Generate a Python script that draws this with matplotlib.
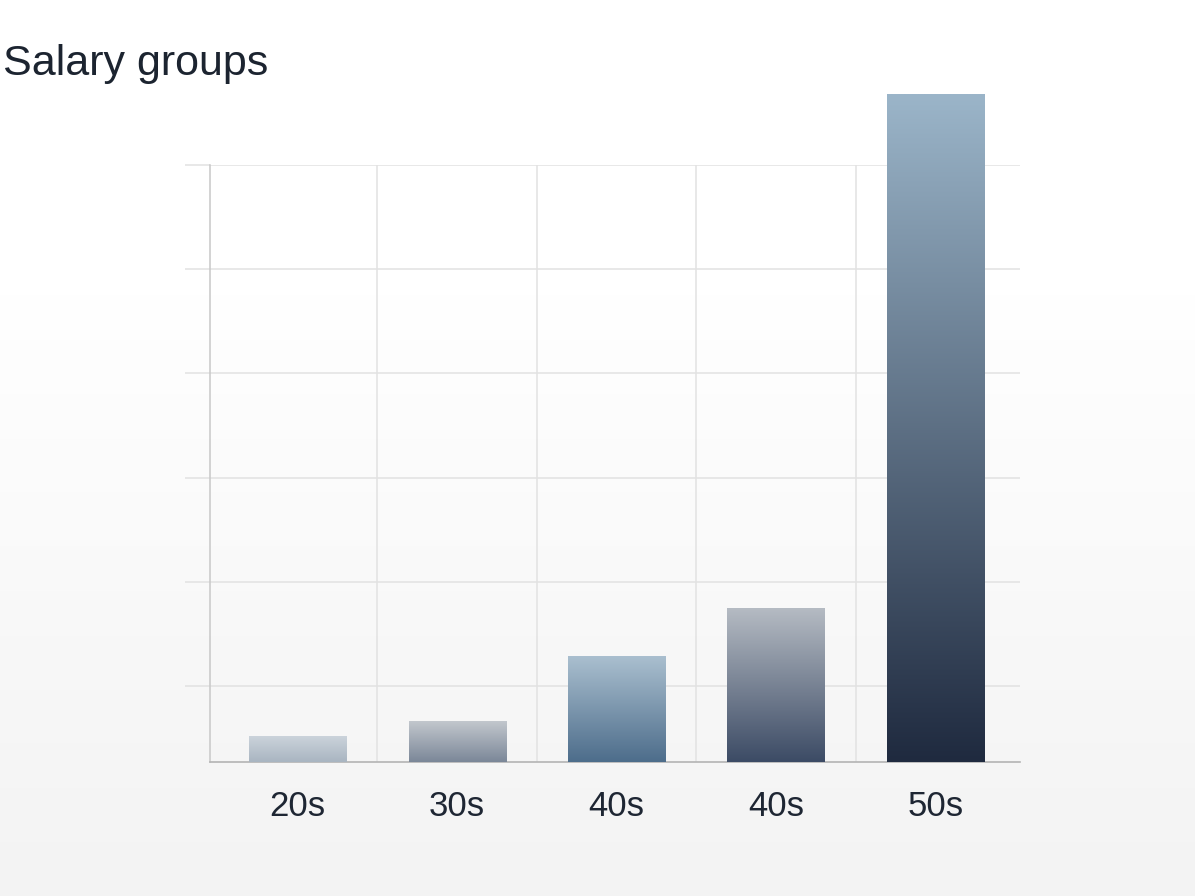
import numpy as np
import matplotlib
matplotlib.use("Agg")
import matplotlib.pyplot as plt
from matplotlib.colors import LinearSegmentedColormap

# 資料
groups = ["20s", "30s", "40s", "40s", "50s"]
salary = [5.1, 6.6, 12.8, 17.4, 66.8]
grid_levels = [10, 20, 30, 40, 50, 60]
baseline = 2.7

# 每根柱子的漸層（上 → 下）
bar_top_colors = ["#cbd3db", "#c2c7cd", "#aabfcf", "#b5bbc3", "#9bb5c9"]
bar_bottom_colors = ["#a9b5c1", "#7b8798", "#4d6d8b", "#3c4b65", "#1f2a3f"]

W, H, DPI = 1195, 896, 100
fig = plt.figure(figsize=(W / DPI, H / DPI), dpi=DPI)

# 背景：上白下淺灰
bg = fig.add_axes([0, 0, 1, 1], zorder=-10)
bg_grad = np.concatenate([np.ones(32), np.linspace(1, 0, 68)])[:, None]
bg_cmap = LinearSegmentedColormap.from_list("bg", ["#f3f3f3", "#ffffff"])
bg.imshow(bg_grad, aspect="auto", cmap=bg_cmap, extent=[0, 1, 0, 1],
          vmin=0, vmax=1)
bg.axis("off")

ax_left, ax_right = 210 / W, 1020 / W
ax_bottom, ax_top = 1 - 762 / H, 1 - 165 / H
ax = fig.add_axes([ax_left, ax_bottom, ax_right - ax_left, ax_top - ax_bottom])
ax.patch.set_alpha(0)

x = np.arange(len(groups))
width = 0.61
grad = np.linspace(1, 0, 256)[:, None]
for i, (xi, val) in enumerate(zip(x, salary)):
    cmap = LinearSegmentedColormap.from_list(
        f"b{i}", [bar_bottom_colors[i], bar_top_colors[i]])
    ax.imshow(grad, aspect="auto", cmap=cmap, vmin=0, vmax=1,
              extent=[xi - width / 2, xi + width / 2, baseline, val],
              zorder=3, clip_on=False, interpolation="bilinear")

ax.set_xlim(-0.55, 4.53)
ax.set_ylim(baseline, 60)

# 格線
for xv in x[:-1] + 0.5:
    ax.axvline(xv, color="#e2e2e2", lw=1.1, zorder=1)
ax.set_yticks(grid_levels)
ax.yaxis.grid(True, color="#e2e2e2", lw=1.1, zorder=1)
ax.tick_params(axis="y", length=18, color="#e2e2e2", width=1.1, labelleft=False)

ax.set_xticks(x)
ax.set_xticklabels(groups, fontsize=25, color="#1e2633", family="Liberation Sans")
ax.tick_params(axis="x", length=0, pad=20)

for s in ["top", "right"]:
    ax.spines[s].set_visible(False)
ax.spines["left"].set_color("#c8c8c8")
ax.spines["bottom"].set_color("#b4b4b4")
ax.spines["left"].set_linewidth(1.1)
ax.spines["bottom"].set_linewidth(1.2)

fig.text(3 / W, 1 - 64 / H, "Salary groups", fontsize=31, color="#1c2430",
         family="Liberation Sans", ha="left", va="center")

fig.savefig("out.png", dpi=DPI)
